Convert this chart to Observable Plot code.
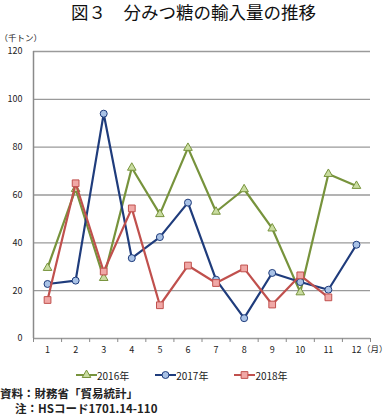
<!DOCTYPE html>
<html>
<head>
<meta charset="utf-8">
<script src="https://cdn.jsdelivr.net/npm/d3@7"></script>
<script src="https://cdn.jsdelivr.net/npm/@observablehq/plot@0.6"></script>
<style>
  body { margin: 0; background: #fff; font-family: "Noto Sans CJK JP", sans-serif; width: 387px; height: 417px; overflow: hidden; position: relative; }
  #title { height: 24px; line-height: 24px; text-align: center; font-size: 17.5px; color: #111; }
  #legend { display: flex; align-items: center; margin-left: 76px; gap: 26px; height: 22px; font-size: 10px; color: #222; }
  .item { display: flex; align-items: center; }
  .foot { font-size: 11.5px; font-weight: bold; color: #222; line-height: 15px; height: 15px; }
</style>
</head>
<body>
<div id="title">図３　分みつ糖の輸入量の推移</div>
<div id="chart"></div>
<div id="legend"></div>
<div class="foot">資料：財務省「貿易統計」</div>
<div class="foot" style="padding-left:15px;">注：HSコード1701.14-110</div>
<script>
const months = [1, 2, 3, 4, 5, 6, 7, 8, 9, 10, 11, 12];
const monthLabels = ["1", "2", "3", "4", "5", "6", "7", "8", "9", "10", "11", "12"];
const v2016 = [29.5, 62.5, 25.3, 71.4, 52, 79.7, 53, 62.4, 46, 19.3, 68.8, 63.8];
const v2017 = [22.8, 24.2, 94, 33.6, 42.4, 56.8, 24.6, 8.5, 27.4, 23.6, 20.4, 39.2];
const v2018 = [16.1, 64.9, 28, 54.4, 13.9, 30.5, 23.2, 29.3, 14.2, 26.4, 17.2, null];
const yTicks = [0, 20, 40, 60, 80, 100, 120];
const seriesNames = ["2016年", "2017年", "2018年"];

const styles = {
  "2016年": {stroke: "#77933C", fill: "#C9DCA0", symbol: "triangle", r: 3.2},
  "2017年": {stroke: "#1F3C7C", fill: "#A9C2E6", symbol: "circle", r: 3.5},
  "2018年": {stroke: "#C0504D", fill: "#F0A8A6", symbol: "square", r: 3.8}
};
const values = {"2016年": v2016, "2017年": v2017, "2018年": v2018};

const boundaries = [...months.map(m => m - 0.5), months[months.length - 1] + 0.5];

const marks = [
  Plot.gridY(yTicks, {stroke: "#9a9a9a", strokeOpacity: 1, strokeWidth: 1.3}),
  Plot.ruleX([boundaries[0]], {stroke: "#8a8a8a", strokeWidth: 1.5}),
  Plot.axisY(yTicks, {tickSize: 0, tickPadding: 11, fontSize: 9, color: "#222", label: null}),
  Plot.axisX(boundaries, {tickSize: 4, tickFormat: () => "", stroke: "#8a8a8a", label: null}),
  Plot.axisX(months, {tickSize: 0, tickPadding: 8, fontSize: 9, tickFormat: (d) => monthLabels[d - 1], color: "#222", label: null}),
  Plot.text(["（千トン）"], {frameAnchor: "top-left", dx: -34, dy: -17, fontSize: 8.5, textAnchor: "start", fill: "#222"}),
  Plot.text(["（月）"], {frameAnchor: "bottom-right", dx: 17, dy: 13, fontSize: 8.5, textAnchor: "end", fill: "#222"})
];

for (const name of seriesNames) {
  const s = styles[name];
  const rows = months.map((m, i) => ({month: m, value: values[name][i]})).filter(d => d.value != null);
  marks.push(Plot.line(rows, {x: "month", y: "value", stroke: s.stroke, strokeWidth: 2.2}));
  marks.push(Plot.dot(rows, {x: "month", y: "value", symbol: s.symbol, r: s.r, fill: s.fill, stroke: s.stroke, strokeWidth: 1}));
}

const chart = Plot.plot({
  width: 387,
  height: 340,
  marginLeft: 33,
  marginRight: 17,
  marginTop: 27,
  marginBottom: 26,
  x: {domain: [boundaries[0], boundaries[boundaries.length - 1]], axis: null},
  y: {domain: [yTicks[0], yTicks[yTicks.length - 1]], axis: null},
  style: {fontFamily: "Noto Sans CJK JP", fontSize: 9, overflow: "visible", background: "transparent"},
  marks
});
document.getElementById("chart").appendChild(chart);

const legend = document.getElementById("legend");
for (const name of seriesNames) {
  const s = styles[name];
  const item = document.createElement("div");
  item.className = "item";
  const ns = "http://www.w3.org/2000/svg";
  const svg = document.createElementNS(ns, "svg");
  svg.setAttribute("width", 21);
  svg.setAttribute("height", 12);
  const line = document.createElementNS(ns, "line");
  line.setAttribute("x1", 0); line.setAttribute("x2", 21);
  line.setAttribute("y1", 6); line.setAttribute("y2", 6);
  line.setAttribute("stroke", s.stroke); line.setAttribute("stroke-width", 2);
  svg.appendChild(line);
  const sym = document.createElementNS(ns, "path");
  const symType = {triangle: d3.symbolTriangle, circle: d3.symbolCircle, square: d3.symbolSquare}[s.symbol];
  sym.setAttribute("d", d3.symbol(symType, Math.PI * s.r * s.r)());
  sym.setAttribute("transform", "translate(10.5,6)");
  sym.setAttribute("fill", s.fill); sym.setAttribute("stroke", s.stroke);
  svg.appendChild(sym);
  item.appendChild(svg);
  const label = document.createElement("span");
  label.textContent = name;
  item.appendChild(label);
  legend.appendChild(item);
}
</script>
</body>
</html>
